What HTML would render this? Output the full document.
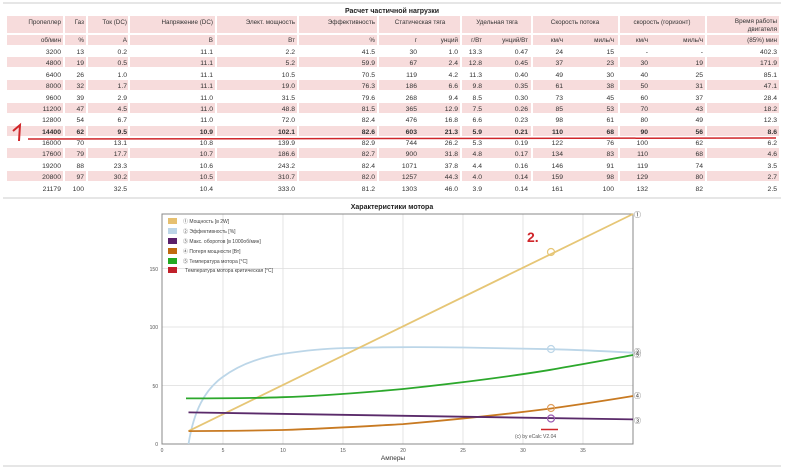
<!DOCTYPE html>
<html><head><meta charset="utf-8"><style>
html,body{margin:0;padding:0;background:#fff;}
svg{display:block;font-family:"Liberation Sans","Noto Sans CJK SC",sans-serif;}
</style></head><body>
<svg width="800" height="469" viewBox="0 0 800 469" xmlns="http://www.w3.org/2000/svg">
<rect width="800" height="469" fill="#fff"/>
<line x1="3" y1="3" x2="781" y2="3" stroke="#ddd" stroke-width="1.5"/>
<text x="392" y="13" font-size="7" font-weight="bold" text-anchor="middle" fill="#222">Расчет частичной нагрузки</text>
<g fill="#f7dcdc">
<rect x="7" y="16" width="56" height="17"/><rect x="65" y="16" width="21" height="17"/><rect x="88" y="16" width="40" height="17"/><rect x="130" y="16" width="85" height="17"/><rect x="217" y="16" width="80" height="17"/><rect x="299" y="16" width="78" height="17"/><rect x="379" y="16" width="81" height="17"/><rect x="462" y="16" width="69" height="17"/><rect x="533" y="16" width="85" height="17"/><rect x="620" y="16" width="85" height="17"/><rect x="707" y="16" width="72" height="17"/>
<rect x="7" y="35" width="772" height="10"/>
<rect x="7" y="57" width="772" height="10"/>
<rect x="7" y="80" width="772" height="10"/>
<rect x="7" y="103" width="772" height="10"/>
<rect x="7" y="126" width="772" height="10"/>
<rect x="7" y="148" width="772" height="10"/>
<rect x="7" y="171" width="772" height="10"/>
</g>
<g stroke="#fff" stroke-width="2">
<line x1="64" y1="16" x2="64" y2="183"/><line x1="87" y1="16" x2="87" y2="183"/><line x1="129" y1="16" x2="129" y2="183"/><line x1="216" y1="16" x2="216" y2="183"/><line x1="298" y1="16" x2="298" y2="183"/><line x1="378" y1="16" x2="378" y2="183"/><line x1="461" y1="16" x2="461" y2="183"/><line x1="532" y1="16" x2="532" y2="183"/><line x1="619" y1="16" x2="619" y2="183"/><line x1="706" y1="16" x2="706" y2="183"/>
</g>
<g font-size="6.3" fill="#333" text-anchor="end">
<text x="61" y="24">Пропеллер</text><text x="84" y="24">Газ</text><text x="127" y="24">Ток (DC)</text><text x="213" y="24">Напряжение (DC)</text><text x="295" y="24">Элект. мощность</text><text x="375" y="24">Эффективность</text>
<text x="777" y="23">Время работы</text><text x="777" y="31">двигателя</text>
<text x="61" y="42">об/мин</text><text x="84" y="42">%</text><text x="127" y="42">А</text><text x="213" y="42">В</text><text x="295" y="42">Вт</text><text x="375" y="42">%</text><text x="417" y="42">г</text><text x="458" y="42">унций</text><text x="482" y="42">г/Вт</text><text x="528" y="42">унций/Вт</text><text x="563" y="42">км/ч</text><text x="614" y="42">миль/ч</text><text x="648" y="42">км/ч</text><text x="703" y="42">миль/ч</text><text x="777" y="42">(85%) мин</text>
</g>
<g font-size="6.3" fill="#333" text-anchor="middle">
<text x="420" y="24">Статическая тяга</text><text x="497" y="24">Удельная тяга</text><text x="575" y="24">Скорость потока</text><text x="662" y="24">скорость (горизонт)</text>
</g>
<g font-size="6.8" fill="#333" text-anchor="end">
<text y="54"><tspan x="61">3200</tspan><tspan x="84">13</tspan><tspan x="127">0.2</tspan><tspan x="213">11.1</tspan><tspan x="295">2.2</tspan><tspan x="375">41.5</tspan><tspan x="417">30</tspan><tspan x="458">1.0</tspan><tspan x="482">13.3</tspan><tspan x="528">0.47</tspan><tspan x="563">24</tspan><tspan x="614">15</tspan><tspan x="648">-</tspan><tspan x="703">-</tspan><tspan x="777">402.3</tspan></text>
<text y="65"><tspan x="61">4800</tspan><tspan x="84">19</tspan><tspan x="127">0.5</tspan><tspan x="213">11.1</tspan><tspan x="295">5.2</tspan><tspan x="375">59.9</tspan><tspan x="417">67</tspan><tspan x="458">2.4</tspan><tspan x="482">12.8</tspan><tspan x="528">0.45</tspan><tspan x="563">37</tspan><tspan x="614">23</tspan><tspan x="648">30</tspan><tspan x="703">19</tspan><tspan x="777">171.9</tspan></text>
<text y="77"><tspan x="61">6400</tspan><tspan x="84">26</tspan><tspan x="127">1.0</tspan><tspan x="213">11.1</tspan><tspan x="295">10.5</tspan><tspan x="375">70.5</tspan><tspan x="417">119</tspan><tspan x="458">4.2</tspan><tspan x="482">11.3</tspan><tspan x="528">0.40</tspan><tspan x="563">49</tspan><tspan x="614">30</tspan><tspan x="648">40</tspan><tspan x="703">25</tspan><tspan x="777">85.1</tspan></text>
<text y="88"><tspan x="61">8000</tspan><tspan x="84">32</tspan><tspan x="127">1.7</tspan><tspan x="213">11.1</tspan><tspan x="295">19.0</tspan><tspan x="375">76.3</tspan><tspan x="417">186</tspan><tspan x="458">6.6</tspan><tspan x="482">9.8</tspan><tspan x="528">0.35</tspan><tspan x="563">61</tspan><tspan x="614">38</tspan><tspan x="648">50</tspan><tspan x="703">31</tspan><tspan x="777">47.1</tspan></text>
<text y="100"><tspan x="61">9600</tspan><tspan x="84">39</tspan><tspan x="127">2.9</tspan><tspan x="213">11.0</tspan><tspan x="295">31.5</tspan><tspan x="375">79.6</tspan><tspan x="417">268</tspan><tspan x="458">9.4</tspan><tspan x="482">8.5</tspan><tspan x="528">0.30</tspan><tspan x="563">73</tspan><tspan x="614">45</tspan><tspan x="648">60</tspan><tspan x="703">37</tspan><tspan x="777">28.4</tspan></text>
<text y="111"><tspan x="61">11200</tspan><tspan x="84">47</tspan><tspan x="127">4.5</tspan><tspan x="213">11.0</tspan><tspan x="295">48.8</tspan><tspan x="375">81.5</tspan><tspan x="417">365</tspan><tspan x="458">12.9</tspan><tspan x="482">7.5</tspan><tspan x="528">0.26</tspan><tspan x="563">85</tspan><tspan x="614">53</tspan><tspan x="648">70</tspan><tspan x="703">43</tspan><tspan x="777">18.2</tspan></text>
<text y="122"><tspan x="61">12800</tspan><tspan x="84">54</tspan><tspan x="127">6.7</tspan><tspan x="213">11.0</tspan><tspan x="295">72.0</tspan><tspan x="375">82.4</tspan><tspan x="417">476</tspan><tspan x="458">16.8</tspan><tspan x="482">6.6</tspan><tspan x="528">0.23</tspan><tspan x="563">98</tspan><tspan x="614">61</tspan><tspan x="648">80</tspan><tspan x="703">49</tspan><tspan x="777">12.3</tspan></text>
<text y="134" font-weight="bold"><tspan x="61">14400</tspan><tspan x="84">62</tspan><tspan x="127">9.5</tspan><tspan x="213">10.9</tspan><tspan x="295">102.1</tspan><tspan x="375">82.6</tspan><tspan x="417">603</tspan><tspan x="458">21.3</tspan><tspan x="482">5.9</tspan><tspan x="528">0.21</tspan><tspan x="563">110</tspan><tspan x="614">68</tspan><tspan x="648">90</tspan><tspan x="703">56</tspan><tspan x="777">8.6</tspan></text>
<text y="145"><tspan x="61">16000</tspan><tspan x="84">70</tspan><tspan x="127">13.1</tspan><tspan x="213">10.8</tspan><tspan x="295">139.9</tspan><tspan x="375">82.9</tspan><tspan x="417">744</tspan><tspan x="458">26.2</tspan><tspan x="482">5.3</tspan><tspan x="528">0.19</tspan><tspan x="563">122</tspan><tspan x="614">76</tspan><tspan x="648">100</tspan><tspan x="703">62</tspan><tspan x="777">6.2</tspan></text>
<text y="156"><tspan x="61">17600</tspan><tspan x="84">79</tspan><tspan x="127">17.7</tspan><tspan x="213">10.7</tspan><tspan x="295">186.6</tspan><tspan x="375">82.7</tspan><tspan x="417">900</tspan><tspan x="458">31.8</tspan><tspan x="482">4.8</tspan><tspan x="528">0.17</tspan><tspan x="563">134</tspan><tspan x="614">83</tspan><tspan x="648">110</tspan><tspan x="703">68</tspan><tspan x="777">4.6</tspan></text>
<text y="168"><tspan x="61">19200</tspan><tspan x="84">88</tspan><tspan x="127">23.3</tspan><tspan x="213">10.6</tspan><tspan x="295">243.2</tspan><tspan x="375">82.4</tspan><tspan x="417">1071</tspan><tspan x="458">37.8</tspan><tspan x="482">4.4</tspan><tspan x="528">0.16</tspan><tspan x="563">146</tspan><tspan x="614">91</tspan><tspan x="648">119</tspan><tspan x="703">74</tspan><tspan x="777">3.5</tspan></text>
<text y="179"><tspan x="61">20800</tspan><tspan x="84">97</tspan><tspan x="127">30.2</tspan><tspan x="213">10.5</tspan><tspan x="295">310.7</tspan><tspan x="375">82.0</tspan><tspan x="417">1257</tspan><tspan x="458">44.3</tspan><tspan x="482">4.0</tspan><tspan x="528">0.14</tspan><tspan x="563">159</tspan><tspan x="614">98</tspan><tspan x="648">129</tspan><tspan x="703">80</tspan><tspan x="777">2.7</tspan></text>
<text y="191"><tspan x="61">21179</tspan><tspan x="84">100</tspan><tspan x="127">32.5</tspan><tspan x="213">10.4</tspan><tspan x="295">333.0</tspan><tspan x="375">81.2</tspan><tspan x="417">1303</tspan><tspan x="458">46.0</tspan><tspan x="482">3.9</tspan><tspan x="528">0.14</tspan><tspan x="563">161</tspan><tspan x="614">100</tspan><tspan x="648">132</tspan><tspan x="703">82</tspan><tspan x="777">2.5</tspan></text>
</g>
<line x1="28" y1="139" x2="776" y2="138" stroke="#d0262a" stroke-width="1.5"/>
<path d="M13 131 L20 125 L19 141" fill="none" stroke="#d0262a" stroke-width="2"/>
<line x1="3" y1="198" x2="781" y2="198" stroke="#ddd" stroke-width="1.5"/>
<line x1="3" y1="466" x2="781" y2="466" stroke="#ddd" stroke-width="1.5"/>

<text x="392" y="209" font-size="7" font-weight="bold" text-anchor="middle" fill="#222">Характеристики мотора</text>
<g stroke="#ddd" stroke-width="0.8">
<line x1="223" y1="214" x2="223" y2="444"/><line x1="283" y1="214" x2="283" y2="444"/><line x1="343" y1="214" x2="343" y2="444"/><line x1="403" y1="214" x2="403" y2="444"/><line x1="463" y1="214" x2="463" y2="444"/><line x1="523" y1="214" x2="523" y2="444"/><line x1="583" y1="214" x2="583" y2="444"/>
<line x1="162" y1="385.5" x2="633" y2="385.5"/><line x1="162" y1="327" x2="633" y2="327"/><line x1="162" y1="268.5" x2="633" y2="268.5"/>
</g>
<rect x="162" y="214" width="471" height="230" fill="none" stroke="#888" stroke-width="1"/>
<g font-size="5" fill="#555" text-anchor="end">
<text x="158" y="446">0</text><text x="158" y="388">50</text><text x="158" y="329">100</text><text x="158" y="271">150</text>
</g>
<g font-size="5" fill="#555" text-anchor="middle">
<text x="162" y="452">0</text><text x="223" y="452">5</text><text x="283" y="452">10</text><text x="343" y="452">15</text><text x="403" y="452">20</text><text x="463" y="452">25</text><text x="523" y="452">30</text><text x="583" y="452">35</text>
</g>
<text x="393" y="460" font-size="6.5" text-anchor="middle" fill="#333">Амперы</text>

<g fill="none" stroke-width="1.8">
<path d="M188.5 444 C194 410 205 390 222 377.5 C240 364 262 357 282.5 353.9 C305 350.5 325 348.5 342.8 348.1 C380 347 430 347 463.3 347.5 C500 348 530 348.8 551.2 349.2 C580 350 610 351.5 633.2 352.7" stroke="#bcd6e8"/>
<line x1="188.5" y1="431.1" x2="633" y2="214" stroke="#e6c676"/>
<path d="M186 398.4 C230 398.4 260 398 282.5 397.2 C320 396 370 392 403 389 C450 384 500 378 547.6 370.3 C580 364.5 610 359.5 633 355" stroke="#2ca82c"/>
<path d="M188.5 431.1 C230 431 260 430.5 282.5 430 C330 428.5 370 426 403 424.1 C450 420 500 415 551 408.5 C590 403 615 399 633 396" stroke="#c87a22"/>
<line x1="188.5" y1="412.4" x2="633" y2="419.4" stroke="#5a2a6a"/>
</g>
<g fill="none" stroke-width="1.2">
<circle cx="551" cy="252" r="3.5" stroke="#e6c676"/>
<circle cx="551" cy="349" r="3.5" stroke="#bcd6e8"/>
<circle cx="551" cy="408" r="3.5" stroke="#e0a060"/>
<circle cx="551" cy="418.5" r="3.5" stroke="#9a5ab0"/>
</g>
<line x1="541" y1="429.5" x2="558" y2="429.5" stroke="#d0262a" stroke-width="1.5"/>
<text x="515" y="438" font-size="5" fill="#555">(c) by eCalc  V2.04</text>
<text x="527" y="242" font-size="14" font-weight="bold" fill="#d0262a">2.</text>
<g font-size="7" fill="#444">
<text x="634" y="217">①</text><text x="634" y="354">②</text><text x="634" y="357">⑤</text><text x="634" y="398">④</text><text x="634" y="423">③</text>
</g>
<g font-size="5" fill="#444">
<rect x="168" y="218" width="9" height="6" fill="#e6c070"/><text x="183" y="223">① Мощность [в 2W]</text>
<rect x="168" y="228" width="9" height="6" fill="#bcd6e8"/><text x="183" y="233">② Эффективность [%]</text>
<rect x="168" y="238" width="9" height="6" fill="#5a1f6a"/><text x="183" y="243">③ Макс. оборотов [в 1000об/мин]</text>
<rect x="168" y="248" width="9" height="6" fill="#c06a10"/><text x="183" y="253">④ Потеря мощности [Вт]</text>
<rect x="168" y="258" width="9" height="6" fill="#22aa22"/><text x="183" y="263">⑤ Температура мотора [°C]</text>
<rect x="168" y="267" width="9" height="6" fill="#c0202a"/><text x="185" y="272">Температура мотора критическая [°C]</text>
</g>
</svg>
</body></html>
